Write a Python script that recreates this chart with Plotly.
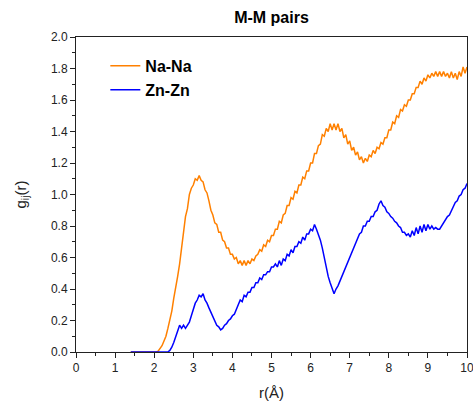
import numpy as np
import plotly.graph_objects as go

# r grid (Å), 0.05 Å steps from 1.40 to 10.00
r = np.round(np.arange(1.40, 10.0001, 0.05), 2)

na_na = [0.0] * 14 + [
    0.005, 0.02, 0.04, 0.07, 0.10, 0.15, 0.20, 0.26, 0.34, 0.40,
    0.48, 0.56, 0.68, 0.76, 0.86, 0.91, 1.00, 1.04, 1.06, 1.10,
    1.09, 1.12, 1.09, 1.08, 1.03, 1.01, 0.96, 0.90, 0.87, 0.82,
    0.81, 0.76, 0.76, 0.71, 0.70, 0.66, 0.66, 0.62, 0.62, 0.59,
    0.60, 0.56, 0.58, 0.55, 0.58, 0.55, 0.58, 0.56, 0.59, 0.58,
    0.61, 0.62, 0.65, 0.64, 0.68, 0.67, 0.71, 0.70, 0.74, 0.74,
    0.78, 0.78, 0.83, 0.82, 0.87, 0.88, 0.93, 0.93, 0.98, 0.97,
    1.02, 1.01, 1.06, 1.06, 1.11, 1.10, 1.15, 1.15, 1.20, 1.20,
    1.26, 1.26, 1.31, 1.32, 1.38, 1.37, 1.42, 1.40, 1.45, 1.41,
    1.45, 1.41, 1.45, 1.40, 1.42, 1.36, 1.38, 1.32, 1.34, 1.28,
    1.30, 1.25, 1.27, 1.22, 1.24, 1.20, 1.23, 1.21, 1.25, 1.24,
    1.28, 1.26, 1.30, 1.29, 1.33, 1.32, 1.36, 1.36, 1.41, 1.41,
    1.46, 1.45, 1.50, 1.49, 1.54, 1.53, 1.57, 1.56, 1.60, 1.60,
    1.64, 1.64, 1.68, 1.68, 1.72, 1.70, 1.74, 1.72, 1.76, 1.74,
    1.77, 1.75, 1.78, 1.75, 1.78, 1.75, 1.78, 1.75, 1.77, 1.74,
    1.78, 1.74, 1.77, 1.73, 1.78, 1.75, 1.81, 1.77, 1.81,
]

zn_zn = [0.0] * 20 + [
    0.01, 0.03, 0.06, 0.10, 0.14, 0.17, 0.15, 0.17, 0.15, 0.17,
    0.19, 0.23, 0.27, 0.31, 0.33, 0.36, 0.35, 0.37, 0.33, 0.31,
    0.28, 0.25, 0.22, 0.20, 0.17, 0.16, 0.14, 0.15, 0.17, 0.18,
    0.20, 0.21, 0.23, 0.24, 0.27, 0.29, 0.33, 0.32, 0.36, 0.35,
    0.38, 0.38, 0.41, 0.41, 0.44, 0.44, 0.47, 0.46, 0.49, 0.49,
    0.51, 0.51, 0.54, 0.54, 0.56, 0.54, 0.58, 0.55, 0.59, 0.58,
    0.62, 0.61, 0.65, 0.63, 0.67, 0.67, 0.70, 0.69, 0.73, 0.71,
    0.75, 0.75, 0.78, 0.77, 0.81, 0.78, 0.75, 0.71, 0.66, 0.60,
    0.53, 0.48, 0.44, 0.40, 0.37, 0.40, 0.42, 0.45, 0.48, 0.51,
    0.54, 0.58, 0.60, 0.64, 0.66, 0.70, 0.72, 0.75, 0.76, 0.80,
    0.80, 0.83, 0.83, 0.86, 0.86, 0.89, 0.90, 0.94, 0.96, 0.93,
    0.92, 0.89, 0.88, 0.86, 0.85, 0.83, 0.82, 0.80, 0.79, 0.76,
    0.76, 0.74, 0.75, 0.73, 0.77, 0.74, 0.79, 0.75, 0.80, 0.76,
    0.81, 0.77, 0.81, 0.78, 0.80, 0.78, 0.79, 0.78, 0.78, 0.80,
    0.82, 0.84, 0.86, 0.87, 0.90, 0.92, 0.95, 0.96, 0.99, 1.00,
    1.03, 1.04, 1.07,
]

assert len(na_na) == len(r) and len(zn_zn) == len(r)

FONT = "Liberation Sans, Arial, sans-serif"

fig = go.Figure()
fig.add_trace(go.Scatter(x=r, y=na_na, mode="lines", name="Na-Na",
                         line=dict(color="#FF8000", width=1.5)))
fig.add_trace(go.Scatter(x=r, y=zn_zn, mode="lines", name="Zn-Zn",
                         line=dict(color="#0000FF", width=1.5)))

axis_common = dict(
    showline=True, linecolor="#222222", linewidth=1, mirror=True,
    ticks="outside", ticklen=5, tickwidth=1, tickcolor="#222222",
    showgrid=False, zeroline=False, ticklabeloverflow="allow",
    automargin=False,
    tickfont=dict(family=FONT, size=12, color="#222222"),
)

fig.update_layout(
    width=473, height=408,
    margin=dict(l=76, r=6, t=37, b=56),
    paper_bgcolor="white", plot_bgcolor="white",
    title=dict(text="<b>M-M pairs</b>", x=(76 + 467) / 2 / 473, xanchor="center",
               y=1 - 17 / 408, yanchor="middle",
               font=dict(family=FONT, size=16, color="black")),
    xaxis=dict(range=[0, 10], dtick=1, tick0=0,
               minor=dict(dtick=0.5, ticks="outside", ticklen=3, tickcolor="#222222"),
               title=dict(text="r(Å)", font=dict(family=FONT, size=15, color="#222222"),
                          standoff=13),
               **axis_common),
    yaxis=dict(range=[0, 2.0], dtick=0.2, tick0=0, tickformat=".1f",
               minor=dict(dtick=0.1, ticks="outside", ticklen=3, tickcolor="#222222"),
               title=dict(text="g<sub>ij</sub>(r)", font=dict(family=FONT, size=15, color="#222222"),
                          standoff=20),
               **axis_common),
    showlegend=True,
    legend=dict(x=0.075, y=0.962, xanchor="left", yanchor="top",
                bgcolor="rgba(0,0,0,0)",
                font=dict(family=FONT, size=16, color="black", weight="bold"),
                itemwidth=30, tracegroupgap=0),
)

fig.write_html("out.html")
